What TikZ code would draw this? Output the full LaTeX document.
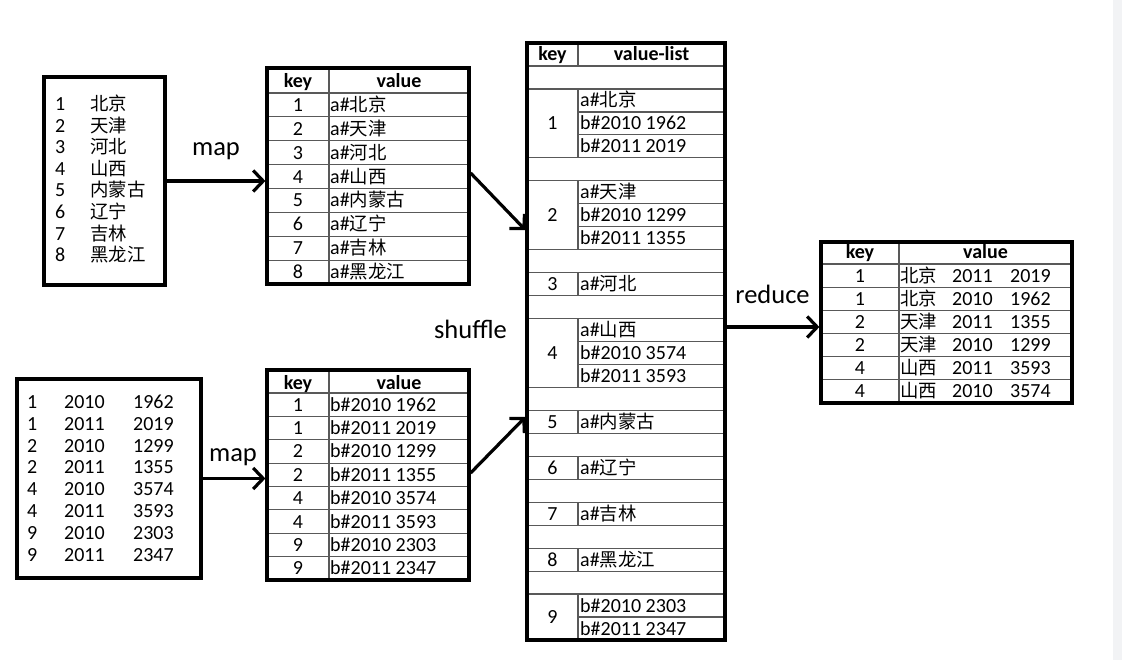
\documentclass[tikz,border=0pt]{standalone}
\usepackage{fontspec}
\setmainfont{Carlito}
\newfontfamily\cjk{Noto Sans CJK SC}[Scale=0.92]
\newcommand{\zh}[1]{{\cjk #1}}
\usetikzlibrary{arrows.meta,calc}
\definecolor{stripgray}{HTML}{F2F3F5}
\begin{document}
\begin{tikzpicture}[x=1pt,y=-1pt,
  outer/.style={draw=black,line width=3.2pt,inner sep=0pt},
  grid/.style={draw=black!65,line width=1.2pt},
  arr/.style={line width=3.2pt,-{Straight Barb[length=10pt,width=21pt]}},
  txt/.style={inner sep=0pt,font=\fontsize{20}{22}\selectfont},
  hdr/.style={inner sep=0pt,font=\fontsize{20}{22}\selectfont\bfseries},
  lbl/.style={inner sep=0pt,font=\fontsize{26.5}{30}\selectfont},
]
\useasboundingbox (0,0) rectangle (1122,660);
\fill[stripgray] (1113,0) rectangle (1122,660);

% ---------- grid lines ----------
% table t1
\draw[grid] (329,68) -- (329,284);
\foreach \k in {0,...,7} \draw[grid] (267,{93+23.875*\k}) -- (469,{93+23.875*\k});
% table t2
\draw[grid] (329,370) -- (329,580);
\foreach \k in {0,...,7} \draw[grid] (267,{393+23.375*\k}) -- (469,{393+23.375*\k});
% result table
\draw[grid] (899,242) -- (899,403);
\foreach \k in {0,...,5} \draw[grid] (821,{264+23.17*\k}) -- (1072,{264+23.17*\k});
% shuffle table
\foreach \i in {0,1,4,5,8,9,10,11,14,15,16,17,18,19,20,21,22,23}
  \draw[grid] (527,{66+22.96*\i}) -- (725,{66+22.96*\i});
\foreach \i in {2,3,6,7,12,13,24}
  \draw[grid] (578,{66+22.96*\i}) -- (725,{66+22.96*\i});
\draw[grid] (578,43) -- (578,66);
\foreach \a/\b in {1/4,5/8,9/10,11/14,15/16,17/18,19/20,21/22,23/25}
  \draw[grid] (578,{66+22.96*\a}) -- (578,{66+22.96*\b});

% ---------- outer boxes ----------
\node[outer,minimum width=121pt,minimum height=208pt] (src1) at (104.5,181) {};
\node[outer,minimum width=202pt,minimum height=216pt] (t1) at (368,176) {};
\node[outer,minimum width=184pt,minimum height=199pt] (src2) at (109,478.5) {};
\node[outer,minimum width=202pt,minimum height=210pt] (t2) at (368,475) {};
\node[outer,minimum width=198pt,minimum height=597pt] (S) at (626,341.5) {};
\node[outer,minimum width=251pt,minimum height=161pt] (R) at (946.5,322.5) {};

% ---------- source 1 ----------
\foreach \k/\v in {1/北京,2/天津,3/河北,4/山西,5/内蒙古,6/辽宁,7/吉林,8/黑龙江}{
  \node[txt,anchor=base west] (sa\k) at (55,{104+21.6*(\k-1)+6.5}) {\k};
  \node[txt,anchor=base west] (sb\k) at (90,{104+21.6*(\k-1)+6.5}) {\zh{\v}};
}
% ---------- source 2 ----------
\foreach \k/\a/\b/\c in {1/1/2010/1962,2/1/2011/2019,3/2/2010/1299,4/2/2011/1355,5/4/2010/3574,6/4/2011/3593,7/9/2010/2303,8/9/2011/2347}{
  \node[txt,anchor=base west] (ua\k) at (27,{401.7+21.9*(\k-1)+6.5}) {\a};
  \node[txt,anchor=base west] (ub\k) at (64,{401.7+21.9*(\k-1)+6.5}) {\b};
  \node[txt,anchor=base west] (uc\k) at (133,{401.7+21.9*(\k-1)+6.5}) {\c};
}

% ---------- table t1 ----------
\node[hdr,anchor=base] (t1hk) at (298,88) {key};
\node[hdr,anchor=base] (t1hv) at (399,88) {value};
\foreach \k/\v in {1/北京,2/天津,3/河北,4/山西,5/内蒙古,6/辽宁,7/吉林,8/黑龙江}{
  \node[txt,anchor=base] (t1k\k) at (298,{93+23.875*(\k-0.5)+6.5}) {\k};
  \node[txt,anchor=base west] (t1v\k) at (330,{93+23.875*(\k-0.5)+6.5}) {a\#\zh{\v}};
}
% ---------- table t2 ----------
\node[hdr,anchor=base] (t2hk) at (298,389) {key};
\node[hdr,anchor=base] (t2hv) at (399,389) {value};
\foreach \k/\a/\b in {1/1/2010 1962,2/1/2011 2019,3/2/2010 1299,4/2/2011 1355,5/4/2010 3574,6/4/2011 3593,7/9/2010 2303,8/9/2011 2347}{
  \node[txt,anchor=base] (t2k\k) at (298,{393+23.375*(\k-0.5)+6.5}) {\a};
  \node[txt,anchor=base west] (t2v\k) at (330,{393+23.375*(\k-0.5)+6.5}) {b\#\b};
}

% ---------- shuffle table ----------
\node[hdr,anchor=base] (shk) at (552.5,61) {key};
\node[hdr,anchor=base] (shv) at (651.5,61) {value-list};
\foreach \k/\m in {1/2.5,2/6.5,3/9.5,4/12.5,5/15.5,6/17.5,7/19.5,8/21.5,9/24}
  \node[txt,anchor=base] (sk\k) at (552.5,{66+22.96*\m+6.5}) {\k};
\foreach \i/\v in {1/a\#\zh{北京},2/b\#2010 1962,3/b\#2011 2019,
                   5/a\#\zh{天津},6/b\#2010 1299,7/b\#2011 1355,
                   9/a\#\zh{河北},
                   11/a\#\zh{山西},12/b\#2010 3574,13/b\#2011 3593,
                   15/a\#\zh{内蒙古},17/a\#\zh{辽宁},19/a\#\zh{吉林},21/a\#\zh{黑龙江},
                   23/b\#2010 2303,24/b\#2011 2347}
  \node[txt,anchor=base west] (sv\i) at (580,{66+22.96*(\i+0.5)+6.5}) {\v};

% ---------- result table ----------
\node[hdr,anchor=base] (rhk) at (860,259) {key};
\node[hdr,anchor=base] (rhv) at (985.5,259) {value};
\foreach \k/\a/\b/\c/\d in {1/1/北京/2011/2019,2/1/北京/2010/1962,3/2/天津/2011/1355,4/2/天津/2010/1299,5/4/山西/2011/3593,6/4/山西/2010/3574}{
  \node[txt,anchor=base] (rk\k) at (860,{264+23.17*(\k-0.5)+6.5}) {\a};
  \node[txt,anchor=base west] (rc\k) at (900,{264+23.17*(\k-0.5)+6.5}) {\zh{\b}};
  \node[txt,anchor=base west] (ry\k) at (952,{264+23.17*(\k-0.5)+6.5}) {\c};
  \node[txt,anchor=base west] (rn\k) at (1010,{264+23.17*(\k-0.5)+6.5}) {\d};
}

% ---------- labels ----------
\node[lbl,anchor=base] (map1) at (216,156) {map};
\node[lbl,anchor=base] (map2) at (233,461) {map};
\node[lbl,anchor=base] (shuf) at (470.5,338) {shuffle};
\node[lbl,anchor=base] (red) at (772.5,304) {reduce};

% ---------- arrows ----------
\draw[arr] (src1.east) -- (src1.east -| t1.west);
\draw[arr] (src2.east) -- (src2.east -| t2.west);
\draw[arr] ([yshift=3pt]t1.east) -- ([yshift=-54pt]t1.east -| S.west);
\draw[arr] ([yshift=2pt]t2.east) -- ([yshift=58pt]t2.east -| S.west);
\draw[arr] ([yshift=-4.5pt]R.west -| S.east) -- ([yshift=-4.5pt]R.west);
\end{tikzpicture}
\end{document}
